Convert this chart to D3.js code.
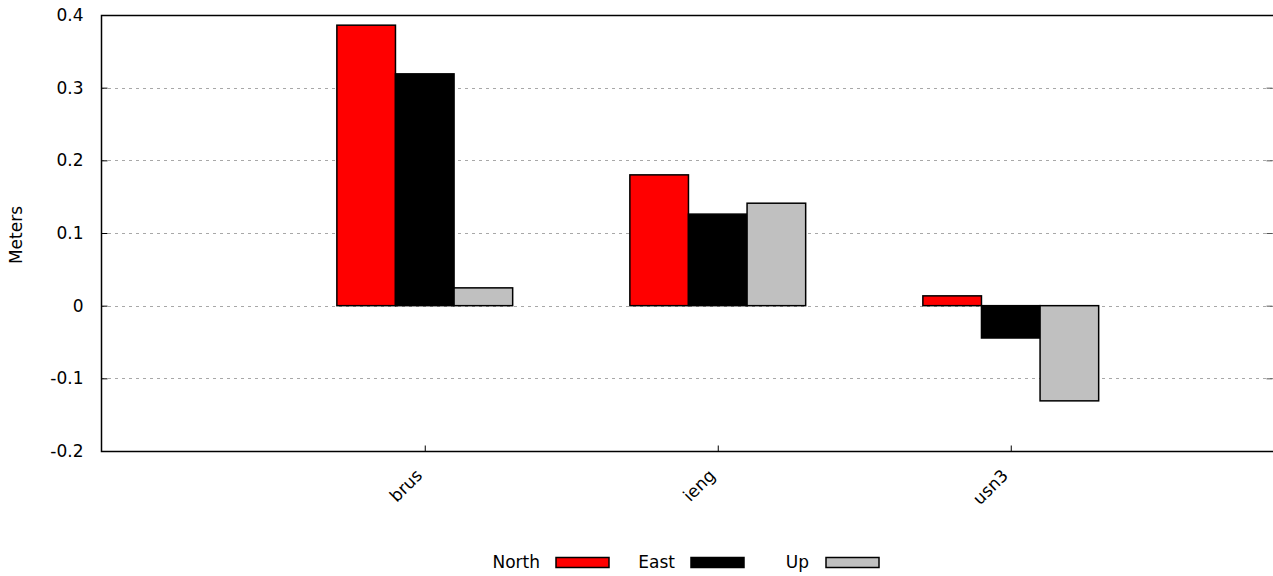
<!DOCTYPE html>
<html>
<head>
<meta charset="utf-8">
<script src="https://cdn.jsdelivr.net/npm/d3@7"></script>
<style>
  html, body { margin: 0; padding: 0; background: #fff; }
  svg { display: block; }
  text { font-family: "DejaVu Sans", sans-serif; fill: #000; }
</style>
</head>
<body>
<svg id="chart" width="1273" height="576"></svg>
<script>
// Station displacement components, metres
const stations = ["brus", "ieng", "usn3"];
const components = ["North", "East", "Up"];
const north = [0.386, 0.180, 0.0135];
const east  = [0.319, 0.126, -0.0445];
const up    = [0.0245, 0.141, -0.131];
const yTicks = [-0.2, -0.1, 0, 0.1, 0.2, 0.3, 0.4];
const yTickLabels = ["-0.2", "-0.1", "0", "0.1", "0.2", "0.3", "0.4"];

const colors = { North: "#ff0000", East: "#000000", Up: "#c0c0c0" };
const seriesValues = { North: north, East: east, Up: up };

const W = 1273, H = 576;
const margin = { left: 101, right: 0, top: 15, bottom: 125 };
const FONT = "17px";

const svg = d3.select("#chart");

// Histogram-style x: each station occupies one unit, bars are 0.2 wide
const x = d3.scaleLinear().domain([-1.105, 2.895]).range([margin.left, W - margin.right]);
const y = d3.scaleLinear().domain([-0.2, 0.4]).range([H - margin.bottom, margin.top]);
const barW = 0.2;

// Dotted grid lines
svg.append("g")
  .selectAll("line")
  .data(yTicks.filter(t => t > -0.2 && t < 0.4))
  .join("line")
  .attr("x1", x.range()[0]).attr("x2", x.range()[1])
  .attr("y1", d => Math.round(y(d)) + 0.5).attr("y2", d => Math.round(y(d)) + 0.5)
  .attr("stroke", "#a8a8a8").attr("stroke-width", 1)
  .attr("stroke-dasharray", "3,4");

// Bars
const bars = [];
stations.forEach((s, i) => {
  components.forEach((c, j) => {
    bars.push({ s, i, c, j, v: seriesValues[c][i] });
  });
});
svg.append("g")
  .selectAll("rect")
  .data(bars)
  .join("rect")
  .attr("x", d => x(d.i - 0.3 + d.j * barW))
  .attr("width", d => x(barW) - x(0))
  .attr("y", d => y(Math.max(0, d.v)))
  .attr("height", d => Math.abs(y(d.v) - y(0)))
  .attr("fill", d => colors[d.c])
  .attr("stroke", "#000")
  .attr("stroke-width", 1.5);

// Left axis with inward ticks
const yAxis = d3.axisLeft(y).tickValues(yTicks)
  .tickFormat((d, k) => yTickLabels[k]).tickSize(-6).tickPadding(18);
const gy = svg.append("g").attr("transform", `translate(${margin.left + 0.5},0)`).call(yAxis);
gy.select(".domain").remove();
gy.selectAll("text").style("font-size", FONT).style("font-family", "DejaVu Sans");
gy.selectAll("line").attr("stroke", "#000");

// Right axis mirror ticks
const yAxisR = d3.axisRight(y).tickValues(yTicks).tickFormat("").tickSize(-6);
const gyr = svg.append("g").attr("transform", `translate(${W - margin.right - 0.5},0)`).call(yAxisR);
gyr.select(".domain").remove();
gyr.selectAll("line").attr("stroke", "#555");

// Bottom axis with inward ticks and rotated labels
const xAxis = d3.axisBottom(x).tickValues(d3.range(stations.length))
  .tickFormat(i => stations[i]).tickSize(-6);
const gx = svg.append("g").attr("transform", `translate(0,${y(-0.2) + 0.5})`).call(xAxis);
gx.select(".domain").remove();
gx.selectAll("line").attr("stroke", "#000");
gx.selectAll("text")
  .style("font-size", FONT).style("font-family", "DejaVu Sans")
  .attr("text-anchor", "end")
  .attr("dy", null)
  .attr("y", 0)
  .attr("transform", "translate(-2,25) rotate(-45)");

// Plot frame
const [x0, x1] = x.range();
const [yb, yt] = y.range();
svg.append("path")
  .attr("d", `M${x1},${yt + 0.5}H${x0 + 0.5}V${yb + 0.5}H${x1}`)
  .attr("fill", "none").attr("stroke", "#000").attr("stroke-width", 1.5);

// Y axis title
svg.append("text")
  .attr("transform", `translate(22,${(yt + yb) / 2 + 2}) rotate(-90)`)
  .attr("text-anchor", "middle")
  .style("font-size", FONT)
  .text("Meters");

// Legend
const legendItems = [
  { c: "North", tx: 540, sx: 556 },
  { c: "East", tx: 675, sx: 691 },
  { c: "Up", tx: 809, sx: 826 }
];
const lg = svg.append("g");
lg.selectAll("text").data(legendItems).join("text")
  .attr("x", d => d.tx).attr("y", 568)
  .attr("text-anchor", "end")
  .style("font-size", FONT)
  .text(d => d.c);
lg.selectAll("rect").data(legendItems).join("rect")
  .attr("x", d => d.sx).attr("y", 557.5)
  .attr("width", 53).attr("height", 10)
  .attr("fill", d => colors[d.c])
  .attr("stroke", "#000").attr("stroke-width", 1.5);
</script>
</body>
</html>
